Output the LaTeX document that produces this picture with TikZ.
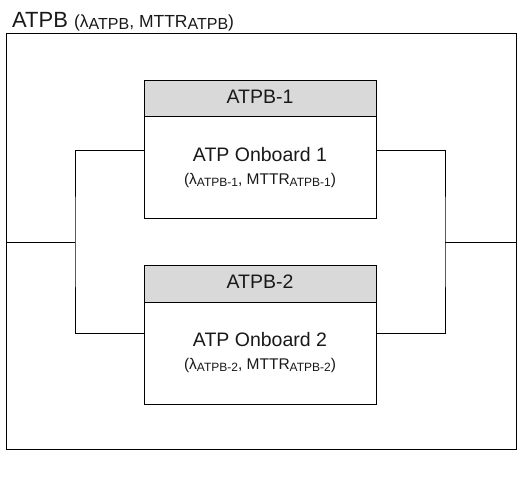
\documentclass[tikz,border=0pt]{standalone}
\usepackage{fontspec}
\setmainfont{Liberation Sans}
\newcommand{\lowsub}[2]{\raisebox{-1.5pt}{\fontsize{#1}{#1}\selectfont #2}}
\tikzset{
  frame/.style={draw=black, line width=0.8pt, inner sep=0pt, anchor=north west},
  headbox/.style={frame, fill=black!15, minimum width=232pt, minimum height=36pt},
  bodybox/.style={frame, fill=white, minimum width=232pt, minimum height=102pt},
  wire/.style={draw=black, line width=0.8pt},
  lbl/.style={anchor=base, inner sep=0pt, text=black!90}
}
\begin{document}
\begin{tikzpicture}[x=1pt,y=-1pt]
\useasboundingbox (0,0) rectangle (523,478);
\node[frame, minimum width=510pt, minimum height=416pt] (outer) at (6,33) {};
\node[lbl, anchor=base west] (title) at (12,28) {\fontsize{22}{26}\selectfont ATPB \fontsize{17.5}{20}\selectfont(λ\lowsub{16}{ATPB}, MTTR\lowsub{16}{ATPB})};
\node[headbox] (h1) at (144,80) {};
\node[bodybox] (b1) at (144,116) {};
\node[headbox, minimum height=37pt] (h2) at (144,265) {};
\node[bodybox] (b2) at (144,302) {};
\node[lbl] (t1) at (260,104) {\fontsize{19.5}{22}\selectfont ATPB-1};
\node[lbl] (n1) at (260,162) {\fontsize{19.5}{22}\selectfont ATP Onboard 1};
\node[lbl] (p1) at (260,185) {\fontsize{15.5}{18}\selectfont(λ\lowsub{12}{ATPB-1}, MTTR\lowsub{12}{ATPB-1})};
\node[lbl] (t2) at (260,289) {\fontsize{19.5}{22}\selectfont ATPB-2};
\node[lbl] (n2) at (260,347) {\fontsize{19.5}{22}\selectfont ATP Onboard 2};
\node[lbl] (p2) at (260,370) {\fontsize{15.5}{18}\selectfont(λ\lowsub{12}{ATPB-2}, MTTR\lowsub{12}{ATPB-2})};
\coordinate (L) at (75,242);
\coordinate (R) at (445,242);
\coordinate (a1) at (144,150);
\coordinate (a2) at (144,333);
\coordinate (c1) at (376,150);
\coordinate (c2) at (376,333);
\coordinate (ol) at (6,242);
\coordinate (or) at (516,242);
\draw[wire] (a1) -| (L) |- (a2);
\draw[wire] (ol) -- (L);
\draw[wire] (c1) -| (R) |- (c2);
\draw[wire] (R) -- (or);
\end{tikzpicture}
\end{document}
